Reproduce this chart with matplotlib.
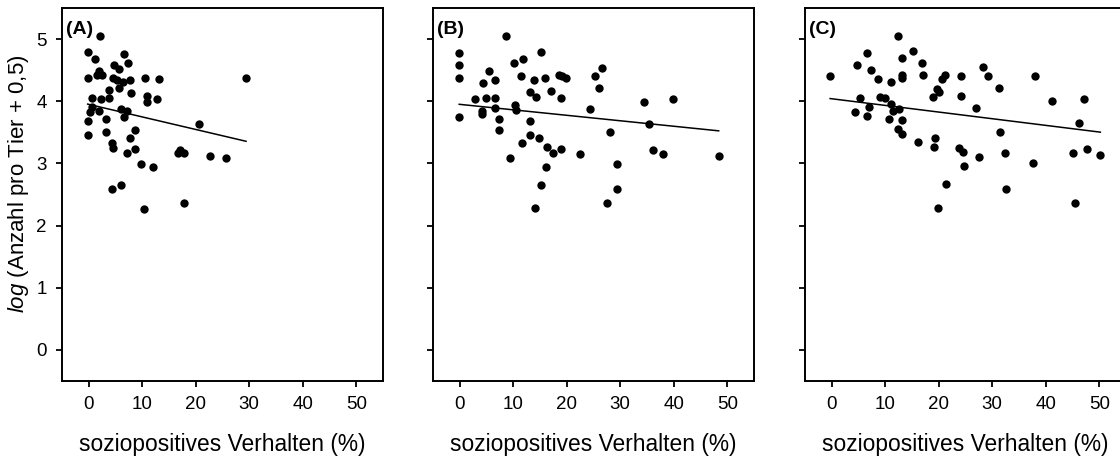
import numpy as np
import matplotlib
matplotlib.use("Agg")
import matplotlib.pyplot as plt

plt.rcParams['font.family'] = ['Liberation Sans', 'DejaVu Sans']
plt.rcParams['mathtext.fontset'] = 'custom'
plt.rcParams['mathtext.it'] = 'Liberation Sans:italic'
plt.rcParams['mathtext.rm'] = 'Liberation Sans'

# Panel A
xA = [2.1, -0.2, 1.2, 6.6, 7.3, 4.8, 5.7, 1.9, 1.6, 2.4, -0.2, 4.6, 5.3, 6.4, 7.8, 10.5, 13.1, 29.4,
      5.7, 3.7, 7.9, 0.7, 2.2, 3.7, 10.8, 10.9, 12.8, 0.6, 0.2, 1.9, 6.1, 7.1, 6.6, -0.2, 3.3, 20.6,
      -0.2, 3.2, 8.6, 7.8, 4.4, 4.6, 8.6, 7.1, 17.0, 17.8, 16.7, 22.7, 25.6, 9.7, 12.0, 4.3, 6.1,
      10.3, 17.8]
yA = [5.05, 4.80, 4.68, 4.76, 4.61, 4.58, 4.52, 4.48, 4.42, 4.42, 4.38, 4.38, 4.34, 4.31, 4.34, 4.38, 4.36, 4.38,
      4.21, 4.18, 4.14, 4.06, 4.04, 4.05, 4.08, 3.99, 4.03, 3.91, 3.82, 3.85, 3.88, 3.85, 3.74, 3.69, 3.72, 3.63,
      3.46, 3.50, 3.53, 3.41, 3.33, 3.25, 3.23, 3.17, 3.21, 3.17, 3.17, 3.12, 3.08, 2.99, 2.94, 2.59, 2.65,
      2.27, 2.36]

# Panel B
xB = [8.7, -0.1, -0.1, -0.1, 15.2, 11.9, 10.2, 5.5, 26.5, 11.5, 25.2, 4.4, 6.6, 13.9, 15.9, 18.5, 19.2, 19.9,
      26.0, 17.0, 13.1, 14.2, 19.0, 2.9, 4.9, 6.6, 34.5, 39.8, 10.4, 10.5, 6.6, 4.1, 4.1, 24.3, -0.1, 7.4,
      13.1, 35.4, 7.3, 28.1, 13.1, 14.9, 11.6, 16.4, 18.9, 17.4, 22.5, 36.1, 38.0, 48.4, 9.3, 29.3, 16.2,
      15.2, 29.3, 14.1, 27.5]
yB = [5.05, 4.77, 4.58, 4.38, 4.80, 4.68, 4.61, 4.49, 4.53, 4.41, 4.41, 4.30, 4.34, 4.34, 4.38, 4.42, 4.40, 4.38,
      4.21, 4.17, 4.15, 4.07, 4.06, 4.04, 4.06, 4.05, 3.99, 4.03, 3.94, 3.86, 3.89, 3.84, 3.79, 3.88, 3.74, 3.72,
      3.69, 3.64, 3.53, 3.50, 3.46, 3.41, 3.33, 3.26, 3.23, 3.17, 3.15, 3.22, 3.15, 3.12, 3.08, 2.99, 2.95,
      2.65, 2.59, 2.28, 2.36]

# Panel C
xC = [-0.3, 12.4, 6.5, 15.1, 13.1, 4.7, 16.9, 7.4, 28.3, 13.1, 13.1, 17.1, 21.1, 20.6, 24.1, 29.2, 37.9,
      8.6, 11.0, 31.3, 19.7, 20.1, 19.0, 24.1, 5.2, 9.1, 9.9, 41.1, 47.2, 11.1, 7.0, 12.5, 11.4, 26.9,
      4.4, 6.5, 10.7, 13.1, 46.3, 12.4, 13.1, 31.5, 16.2, 19.3, 19.1, 23.8, 24.5, 27.5, 32.3, 45.1, 47.7,
      50.2, 37.7, 24.7, 21.3, 32.6, 19.8, 45.5]
yC = [4.40, 5.05, 4.78, 4.81, 4.69, 4.59, 4.62, 4.50, 4.55, 4.43, 4.37, 4.43, 4.43, 4.35, 4.40, 4.40, 4.40,
      4.35, 4.31, 4.22, 4.19, 4.15, 4.07, 4.08, 4.05, 4.07, 4.06, 4.00, 4.04, 3.95, 3.90, 3.87, 3.85, 3.89,
      3.82, 3.76, 3.72, 3.70, 3.65, 3.55, 3.47, 3.51, 3.34, 3.41, 3.27, 3.25, 3.18, 3.10, 3.17, 3.17, 3.23,
      3.14, 3.00, 2.96, 2.67, 2.59, 2.29, 2.37]

# Regression lines (intercept, slope)
fitA = (3.95, -0.0202)
fitB = (3.95, -0.0088)
fitC = (4.04, -0.0107)

panel_labels = ["(A)", "(B)", "(C)"]
x_ticks = [0, 10, 20, 30, 40, 50]
y_ticks = [0, 1, 2, 3, 4, 5]
xlabel = "soziopositives Verhalten (%)"
ylabel = r"$\it{log}$ (Anzahl pro Tier + 0,5)"

W, H = 1120, 461
fig = plt.figure(figsize=(W / 100, H / 100), dpi=100)

lefts = [62, 433, 805]
ax_w = 321
ax_top, ax_bot = 8, 381
data = [(xA, yA, fitA), (xB, yB, fitB), (xC, yC, fitC)]

for i, (l, (xs, ys, fit)) in enumerate(zip(lefts, data)):
    ax = fig.add_axes([l / W, (H - ax_bot) / H, ax_w / W, (ax_bot - ax_top) / H])
    ax.scatter(xs, ys, s=36, color='black', zorder=3, linewidths=0)
    xl = np.array([min(xs), max(xs)])
    ax.plot(xl, fit[0] + fit[1] * xl, color='black', lw=1.1, zorder=2)
    ax.set_xlim(-5, 55)
    ax.set_ylim(-0.5, 5.5)
    ax.set_xticks(x_ticks)
    ax.set_yticks(y_ticks)
    ax.tick_params(direction='out', length=4, width=1.3, labelsize=13.5, pad=7)
    for s in ax.spines.values():
        s.set_linewidth(1.4)
    if i > 0:
        ax.set_yticklabels([])
    else:
        ax.set_ylabel(ylabel, fontsize=16)
        ax.yaxis.set_label_coords(-0.098, 0.53)
    ax.set_xlabel(xlabel, fontsize=16.4, labelpad=14)
    ax.text(0.012, 0.965, panel_labels[i], transform=ax.transAxes, fontsize=14,
            fontweight='bold', ha='left', va='top')

fig.savefig("out.png", dpi=100)
